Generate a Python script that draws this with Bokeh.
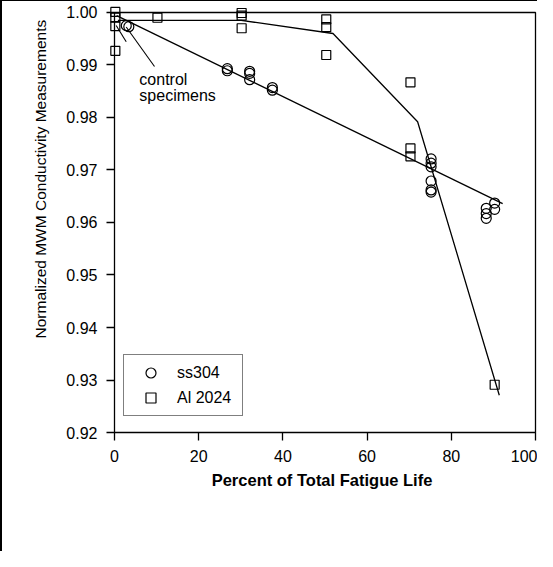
from bokeh.plotting import figure
from bokeh.models import Range1d, FixedTicker, NumeralTickFormatter, Legend, LegendItem, Title
from bokeh.embed import file_html
from bokeh.resources import INLINE
from bokeh.core.properties import value

# ---- data ----
ss304_pct = [2.8, 3.4, 26.8, 26.8, 32.1, 32.1, 32.1, 37.5, 37.5,
             75.2, 75.2, 75.2, 75.2, 75.2, 75.2, 88.3, 88.3, 88.3, 90.3, 90.3]
ss304_val = [0.9975, 0.9973, 0.9893, 0.9889, 0.9888, 0.9884, 0.9872, 0.9857, 0.9852,
             0.9721, 0.9713, 0.9706, 0.9679, 0.9662, 0.9658, 0.9627, 0.9617, 0.9608, 0.9637, 0.9625]

al_pct = [0.2, 0.2, 0.2, 0.2, 10.2, 30.2, 30.2, 30.2, 50.3, 50.3, 50.3, 70.3, 70.3, 70.3, 90.3]
al_val = [1.0001, 0.9990, 0.9974, 0.9927, 0.9990, 0.9999, 0.9994, 0.9970,
          0.9987, 0.9972, 0.9919, 0.9867, 0.9741, 0.9726, 0.9291]

ss304_fit_pct = [0.5, 92.2]
ss304_fit_val = [0.9994, 0.9636]

al_fit_pct = [0.8, 30.1, 51.9, 72.0, 91.4]
al_fit_val = [0.9985, 0.9985, 0.9960, 0.9792, 0.9271]

# leader lines of the "control specimens" note
leader_x0 = [2.78, 9.5]
leader_y0 = [0.99442, 0.98971]
leader_x1 = [0.40, 2.78]
leader_y1 = [0.99754, 0.99723]
note_text = ["control", "specimens"]
note_x = [5.9, 5.9]
note_y = [0.98724, 0.98425]

x_ticks = [0, 20, 40, 60, 80, 100]
y_ticks = [0.92, 0.93, 0.94, 0.95, 0.96, 0.97, 0.98, 0.99, 1.00]

FONT = "Liberation Sans"

p = figure(width=537, height=551, output_backend="svg", toolbar_location=None,
           x_range=Range1d(-1.9, 100.475), y_range=Range1d(0.9184762, 1.0013333),
           min_border_left=104, min_border_right=2, min_border_top=4, min_border_bottom=112)
p.outline_line_color = None
p.xgrid.visible = False
p.ygrid.visible = False
p.background_fill_color = "white"
p.border_fill_color = "white"

# plot box
p.quad(left=[x_ticks[0]], right=[x_ticks[-1]], bottom=[y_ticks[0]], top=[y_ticks[-1]],
       fill_alpha=0, line_color="black", line_width=1.3)

for ax, ticks in ((p.xaxis[0], x_ticks), (p.yaxis[0], y_ticks)):
    ax.ticker = FixedTicker(ticks=ticks)
    ax.axis_line_color = None
    ax.major_tick_in = 8
    ax.major_tick_out = 0
    ax.minor_tick_line_color = None
    ax.major_tick_line_color = "black"
    ax.major_tick_line_width = 1.3
    ax.major_label_text_font = FONT
    ax.major_label_text_font_size = "16px"
    ax.major_label_text_color = "black"
    ax.axis_label_text_font = FONT
    ax.axis_label_text_color = "black"

p.yaxis[0].formatter = NumeralTickFormatter(format="0.00")
p.xaxis[0].major_label_standoff = 9
p.yaxis[0].major_label_standoff = 9
p.xaxis[0].axis_label = "Percent of Total Fatigue Life"
p.xaxis[0].axis_label_text_font_style = "bold"
p.xaxis[0].axis_label_text_font_size = "16.5px"
p.xaxis[0].axis_label_standoff = 6

# y-axis title (sits above the middle of the axis in the original)
ytitle = Title(text="Normalized MWM Conductivity Measurements", align="left", offset=102,
               standoff=29, text_font=FONT, text_font_size="15.5px",
               text_font_style="normal", text_color="black")
p.add_layout(ytitle, "left")

# fit lines
p.line(ss304_fit_pct, ss304_fit_val, line_color="black", line_width=1.3)
p.line(al_fit_pct, al_fit_val, line_color="black", line_width=1.3)

# markers
r_ss = p.scatter(ss304_pct, ss304_val, marker="circle", size=10, fill_alpha=0,
                 line_color="black", line_width=1.2)
r_al = p.scatter(al_pct, al_val, marker="square", size=9, fill_alpha=0,
                 line_color="black", line_width=1.2)

# note
p.segment(x0=leader_x0, y0=leader_y0, x1=leader_x1, y1=leader_y1,
          line_color="black", line_width=1.1)
p.text(x=note_x, y=note_y, text=note_text, text_font=value(FONT),
       text_font_size="16px", text_baseline="alphabetic", text_align="left",
       text_color="black")

legend = Legend(items=[LegendItem(label="ss304", renderers=[r_ss]),
                       LegendItem(label="Al 2024", renderers=[r_al])],
                location=(17, 24), padding=5, spacing=-4, margin=0,
                glyph_height=25, glyph_width=43, label_height=25, label_width=60,
                label_standoff=5, border_line_color="black", border_line_width=1.2,
                background_fill_color="white", background_fill_alpha=1.0,
                label_text_font=FONT, label_text_font_size="16px", label_text_color="black")
p.add_layout(legend)

p.styles = {"border-left": "2px solid black", "border-top": "1px solid black"}

open("out.html", "w").write(file_html(p, INLINE))
